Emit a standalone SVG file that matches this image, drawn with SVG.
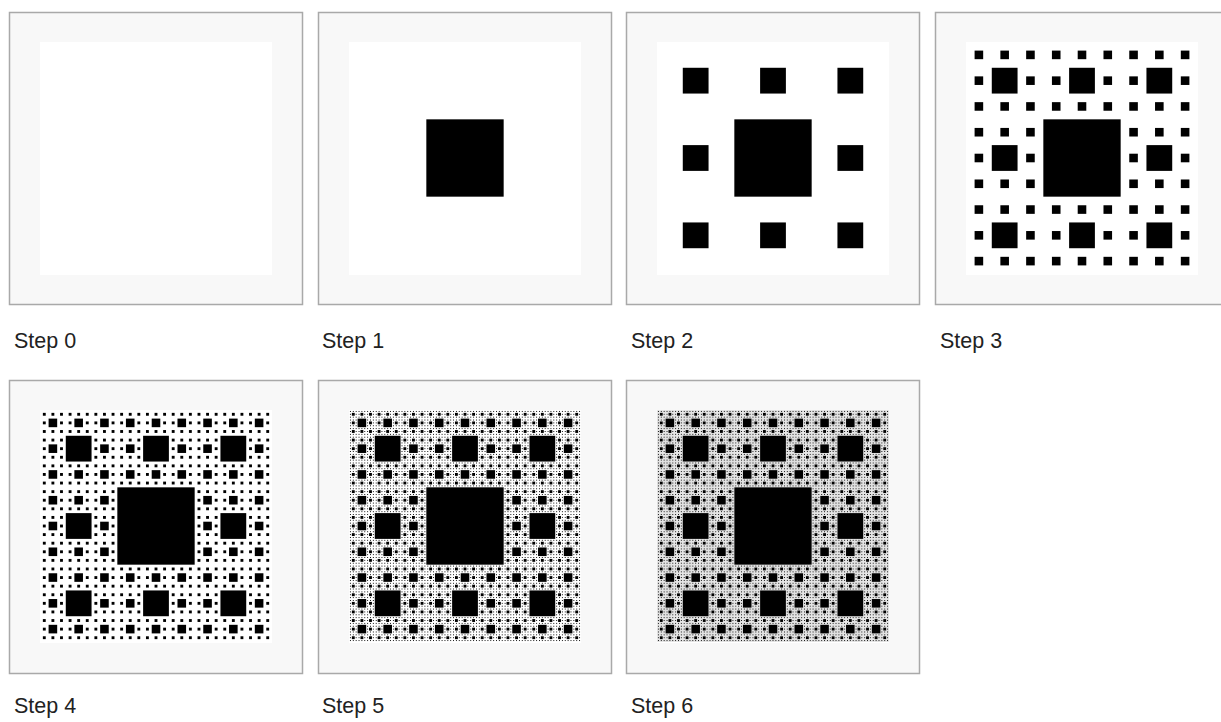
<svg xmlns="http://www.w3.org/2000/svg" xmlns:xlink="http://www.w3.org/1999/xlink" width="1221" height="722" viewBox="0 0 1221 722">
<style>
.frame{fill:#f8f8f8;stroke:#a9a9a9;stroke-width:1.5}
.inner{fill:#ffffff}
.lbl{font-family:"Liberation Sans",Arial,sans-serif;font-size:21.5px;fill:#222222}
</style>
<defs>
<rect id="c1" x="0.333333" y="0.333333" width="0.333333" height="0.333333" fill="#000"/>
<g id="c2">
<use href="#c1"/>
<use href="#c1" transform="translate(0,0) scale(0.333333)"/>
<use href="#c1" transform="translate(0.333333,0) scale(0.333333)"/>
<use href="#c1" transform="translate(0.666667,0) scale(0.333333)"/>
<use href="#c1" transform="translate(0,0.333333) scale(0.333333)"/>
<use href="#c1" transform="translate(0.666667,0.333333) scale(0.333333)"/>
<use href="#c1" transform="translate(0,0.666667) scale(0.333333)"/>
<use href="#c1" transform="translate(0.333333,0.666667) scale(0.333333)"/>
<use href="#c1" transform="translate(0.666667,0.666667) scale(0.333333)"/>
</g>
<g id="c3">
<use href="#c1"/>
<use href="#c2" transform="translate(0,0) scale(0.333333)"/>
<use href="#c2" transform="translate(0.333333,0) scale(0.333333)"/>
<use href="#c2" transform="translate(0.666667,0) scale(0.333333)"/>
<use href="#c2" transform="translate(0,0.333333) scale(0.333333)"/>
<use href="#c2" transform="translate(0.666667,0.333333) scale(0.333333)"/>
<use href="#c2" transform="translate(0,0.666667) scale(0.333333)"/>
<use href="#c2" transform="translate(0.333333,0.666667) scale(0.333333)"/>
<use href="#c2" transform="translate(0.666667,0.666667) scale(0.333333)"/>
</g>
<g id="c4">
<use href="#c1"/>
<use href="#c3" transform="translate(0,0) scale(0.333333)"/>
<use href="#c3" transform="translate(0.333333,0) scale(0.333333)"/>
<use href="#c3" transform="translate(0.666667,0) scale(0.333333)"/>
<use href="#c3" transform="translate(0,0.333333) scale(0.333333)"/>
<use href="#c3" transform="translate(0.666667,0.333333) scale(0.333333)"/>
<use href="#c3" transform="translate(0,0.666667) scale(0.333333)"/>
<use href="#c3" transform="translate(0.333333,0.666667) scale(0.333333)"/>
<use href="#c3" transform="translate(0.666667,0.666667) scale(0.333333)"/>
</g>
<g id="c5">
<use href="#c1"/>
<use href="#c4" transform="translate(0,0) scale(0.333333)"/>
<use href="#c4" transform="translate(0.333333,0) scale(0.333333)"/>
<use href="#c4" transform="translate(0.666667,0) scale(0.333333)"/>
<use href="#c4" transform="translate(0,0.333333) scale(0.333333)"/>
<use href="#c4" transform="translate(0.666667,0.333333) scale(0.333333)"/>
<use href="#c4" transform="translate(0,0.666667) scale(0.333333)"/>
<use href="#c4" transform="translate(0.333333,0.666667) scale(0.333333)"/>
<use href="#c4" transform="translate(0.666667,0.666667) scale(0.333333)"/>
</g>
<g id="c6">
<use href="#c1"/>
<use href="#c5" transform="translate(0,0) scale(0.333333)"/>
<use href="#c5" transform="translate(0.333333,0) scale(0.333333)"/>
<use href="#c5" transform="translate(0.666667,0) scale(0.333333)"/>
<use href="#c5" transform="translate(0,0.333333) scale(0.333333)"/>
<use href="#c5" transform="translate(0.666667,0.333333) scale(0.333333)"/>
<use href="#c5" transform="translate(0,0.666667) scale(0.333333)"/>
<use href="#c5" transform="translate(0.333333,0.666667) scale(0.333333)"/>
<use href="#c5" transform="translate(0.666667,0.666667) scale(0.333333)"/>
</g>
</defs>
<rect width="1221" height="722" fill="#ffffff"/>
<g id="step0">
<rect class="frame" x="9.5" y="12.5" width="293" height="292"/>
<rect class="inner" x="40" y="42" width="232" height="233"/>
<text class="lbl" x="14" y="348">Step 0</text>
</g>
<g id="step1">
<rect class="frame" x="318.5" y="12.5" width="293" height="292"/>
<rect class="inner" x="349" y="42" width="232" height="233"/>
<use href="#c1" transform="translate(349,42) scale(232)"/>
<text class="lbl" x="322" y="348">Step 1</text>
</g>
<g id="step2">
<rect class="frame" x="626.5" y="12.5" width="293" height="292"/>
<rect class="inner" x="657" y="42" width="232" height="233"/>
<use href="#c2" transform="translate(657,42) scale(232)"/>
<text class="lbl" x="631" y="348">Step 2</text>
</g>
<g id="step3">
<rect class="frame" x="935.5" y="12.5" width="293" height="292"/>
<rect class="inner" x="966" y="42" width="232" height="233"/>
<use href="#c3" transform="translate(966,42) scale(232)"/>
<text class="lbl" x="940" y="348">Step 3</text>
</g>
<g id="step4">
<rect class="frame" x="9.5" y="380.5" width="293" height="293"/>
<rect class="inner" x="40" y="410" width="232" height="233"/>
<use href="#c4" transform="translate(40,410) scale(232)"/>
<text class="lbl" x="14" y="713">Step 4</text>
</g>
<g id="step5">
<rect class="frame" x="318.5" y="380.5" width="293" height="293"/>
<rect class="inner" x="349" y="410" width="232" height="233"/>
<use href="#c5" transform="translate(349,410) scale(232)"/>
<text class="lbl" x="322" y="713">Step 5</text>
</g>
<g id="step6">
<rect class="frame" x="626.5" y="380.5" width="293" height="293"/>
<rect class="inner" x="657" y="410" width="232" height="233"/>
<use href="#c6" transform="translate(657,410) scale(232)"/>
<text class="lbl" x="631" y="713">Step 6</text>
</g>
<g id="connectors"></g>
</svg>
